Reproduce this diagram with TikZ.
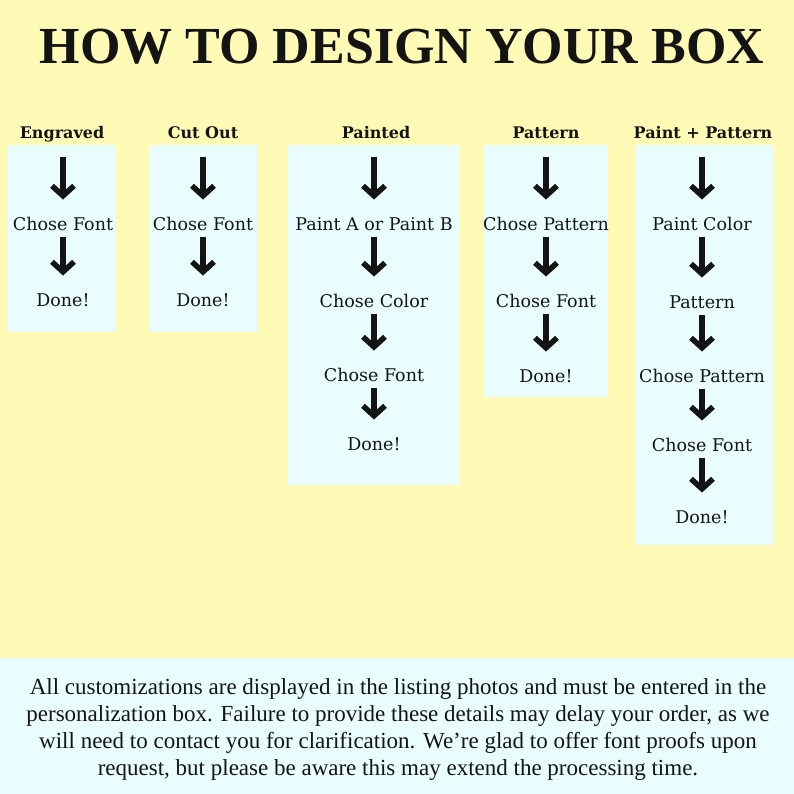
\documentclass[tikz,border=0pt]{standalone}
\usepackage{fontspec}
\setmainfont{Liberation Serif}
\newfontfamily\lblfont{DejaVu Serif}
\usetikzlibrary{arrows.meta}
\definecolor{bgyellow}{RGB}{255,250,181}
\definecolor{bgcyan}{RGB}{233,252,254}
\definecolor{ink}{RGB}{20,20,20}
\tikzset{
  colbox/.style={fill=bgcyan,draw=none},
  hdr/.style={font=\lblfont\fontsize{16}{18}\selectfont\bfseries,text=ink,inner sep=0pt,anchor=base},
  lbl/.style={font=\lblfont\fontsize{17.5}{20}\selectfont,text=ink,inner sep=0pt,text height=14.5pt,text depth=2pt},
  flow/.style={draw=ink,line width=5.5pt,-{Straight Barb[length=10pt,width=22pt]},shorten <=5pt,shorten >=16pt},
  firstflow/.style={draw=ink,line width=5.5pt,-{Straight Barb[length=10pt,width=22pt]},shorten >=16pt},
  titlefont/.style={font=\fontsize{52}{56}\selectfont\bfseries,text=ink,inner sep=0pt},
  notefont/.style={font=\fontsize{23}{27}\selectfont,text=ink,inner sep=0pt,align=center}
}
\begin{document}
\begin{tikzpicture}[x=1pt,y=-1pt]
\useasboundingbox (0,0) rectangle (794,794);
\fill[bgyellow] (0,0) rectangle (794,794);
\fill[bgcyan] (0,658) rectangle (794,794);

\node[titlefont] (title) at (402,47) {HOW TO DESIGN YOUR BOX};

% boxes
\fill[colbox] (8,145) rectangle (115,332);
\fill[colbox] (150,145) rectangle (257,332);
\fill[colbox] (288,145) rectangle (460,485);
\fill[colbox] (484,145) rectangle (607,397);
\fill[colbox] (636,145) rectangle (773,545);

% headers
\node[hdr] (h1) at (62,139) {Engraved};
\node[hdr] (h2) at (203,139) {Cut Out};
\node[hdr] (h3) at (376,139) {Painted};
\node[hdr] (h4) at (546,139) {Pattern};
\node[hdr] (h5) at (703,139) {Paint + Pattern};

% column 1
\coordinate (t1) at (63,157);
\node[lbl] (a1) at (63,224) {Chose Font};
\node[lbl] (a2) at (63,300) {Done!};
\draw[firstflow] (t1) -- (a1.north);
\draw[flow] (a1.south) -- (a2.north);

% column 2
\coordinate (t2) at (203,157);
\node[lbl] (b1) at (203,224) {Chose Font};
\node[lbl] (b2) at (203,300) {Done!};
\draw[firstflow] (t2) -- (b1.north);
\draw[flow] (b1.south) -- (b2.north);

% column 3
\coordinate (t3) at (374,157);
\node[lbl] (c1) at (374,224) {Paint A or Paint B};
\node[lbl] (c2) at (374,301) {Chose Color};
\node[lbl] (c3) at (374,375) {Chose Font};
\node[lbl] (c4) at (374,444) {Done!};
\draw[firstflow] (t3) -- (c1.north);
\draw[flow] (c1.south) -- (c2.north);
\draw[flow] (c2.south) -- (c3.north);
\draw[flow] (c3.south) -- (c4.north);

% column 4
\coordinate (t4) at (546,157);
\node[lbl] (d1) at (546,224) {Chose Pattern};
\node[lbl] (d2) at (546,301) {Chose Font};
\node[lbl] (d3) at (546,376) {Done!};
\draw[firstflow] (t4) -- (d1.north);
\draw[flow] (d1.south) -- (d2.north);
\draw[flow] (d2.south) -- (d3.north);

% column 5
\coordinate (t5) at (702,157);
\node[lbl] (e1) at (702,224) {Paint Color};
\node[lbl] (e2) at (702,302) {Pattern};
\node[lbl] (e3) at (702,376) {Chose Pattern};
\node[lbl] (e4) at (702,445) {Chose Font};
\node[lbl] (e5) at (702,517) {Done!};
\draw[firstflow] (t5) -- (e1.north);
\draw[flow] (e1.south) -- (e2.north);
\draw[flow] (e2.south) -- (e3.north);
\draw[flow] (e3.south) -- (e4.north);
\draw[flow] (e4.south) -- (e5.north);

% note
\node[notefont] (note) at (398,729) {All customizations are displayed in the listing photos and must be entered in the\\
personalization box. Failure to provide these details may delay your order, as we\\
will need to contact you for clarification. We’re glad to offer font proofs upon\\
request, but please be aware this may extend the processing time.};
\end{tikzpicture}
\end{document}
